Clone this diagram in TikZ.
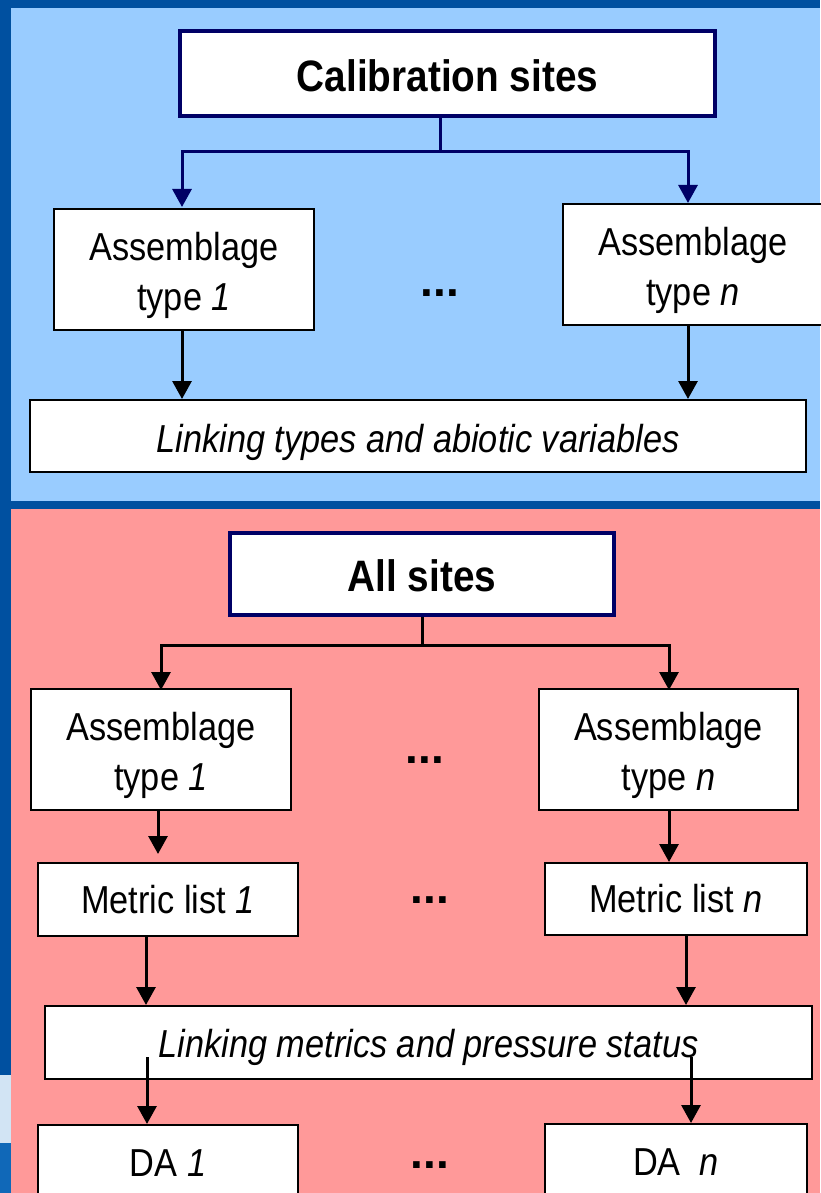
\documentclass[tikz,border=0pt]{standalone}
\usepackage{fontspec}
\setmainfont{Liberation Sans}[FakeStretch=0.88]
\newfontfamily\dotsfont{Liberation Sans}
\usetikzlibrary{arrows.meta}
\definecolor{frameblue}{HTML}{0050A0}
\definecolor{skyblue}{HTML}{99CCFF}
\definecolor{rosepink}{HTML}{FF9999}
\definecolor{navy}{HTML}{000066}
\definecolor{paleblue}{HTML}{D2E4F4}
\definecolor{midblue}{HTML}{1068B8}
\newcommand{\shiftdn}[2]{\raisebox{-#1}[\height][\depth]{#2}}
\newcommand{\twolines}[2]{\shiftdn{6pt}{\begin{tabular}{@{}c@{}}#1\\#2\end{tabular}}}
\tikzset{
  titlebox/.style={draw=navy, line width=3.5pt, fill=white, inner sep=0pt,
    font=\fontsize{44}{50}\selectfont\bfseries},
  plainbox/.style={draw=black, line width=2pt, fill=white, inner sep=0pt, align=center,
    font=\fontsize{39}{50}\selectfont},
  navyconn/.style={draw=navy, line width=3pt},
  blackconn/.style={draw=black, line width=3pt},
  tip/.style={-{Triangle[width=19pt,length=18pt]}},
  dots/.style={font=\dotsfont\fontsize{46}{50}\selectfont\bfseries, inner sep=0pt}
}
\begin{document}
\begin{tikzpicture}[x=1pt,y=-1pt]
\useasboundingbox (0,0) rectangle (820,1193);
% background
\fill[frameblue] (0,0) rectangle (820,1193);
\fill[skyblue] (11,8) rectangle (820,501);
\fill[rosepink] (11,509) rectangle (820,1193);
\fill[paleblue] (0,1075) rectangle (11,1143);
\fill[midblue] (0,1143) rectangle (11,1193);

% ---------- top section ----------
\node[titlebox, minimum width=535pt, minimum height=85pt] (cal) at (447.5,73.5) {\shiftdn{2pt}{Calibration sites}};
\node[plainbox, minimum width=260pt, minimum height=121pt] (at1) at (184,269.5) {\twolines{Assemblage}{type \textit{1}}};
\node[plainbox, minimum width=260pt, minimum height=121pt] (atn) at (693,264.5) {\twolines{Assemblage}{type \textit{n}}};
\node[dots] (d1) at (440,293) {...};
\node[plainbox, minimum width=776pt, minimum height=72pt] (lt) at (418,436) {\shiftdn{6pt}{\textit{Linking types and abiotic variables}}};

\coordinate (cj) at (440,152);
\draw[navyconn] (440,116) -- (cj);
\draw[navyconn, tip] (cj) -- (182,152) -- (182,207);
\draw[navyconn, tip] (cj) -- (688,152) -- (688,203);
\draw[blackconn, tip] (at1.south -| 182,0) -- (lt.north -| 182,0);
\draw[blackconn, tip] (atn.south -| 688,0) -- (lt.north -| 688,0);

% ---------- bottom section ----------
\node[titlebox, minimum width=384pt, minimum height=82pt] (all) at (422,574) {\shiftdn{2pt}{All sites}};
\node[plainbox, minimum width=260pt, minimum height=121pt] (bt1) at (161,749.5) {\twolines{Assemblage}{type \textit{1}}};
\node[plainbox, minimum width=259pt, minimum height=121pt] (btn) at (668.5,749.5) {\twolines{Assemblage}{type \textit{n}}};
\node[dots] (d2) at (425,760) {...};
\node[plainbox, minimum width=260pt, minimum height=73pt] (m1) at (168,899.5) {Metric list \textit{1}};
\node[plainbox, minimum width=262pt, minimum height=72pt] (mn) at (676,899) {Metric list \textit{n}};
\node[dots] (d3) at (430,900) {...};
\node[plainbox, minimum width=767pt, minimum height=73pt] (lm) at (428.5,1042.5) {\shiftdn{5pt}{\textit{Linking metrics and pressure status}}};
\node[plainbox, minimum width=260pt, minimum height=76pt] (da1) at (168,1163) {DA \textit{1}};
\node[plainbox, minimum width=262pt, minimum height=76pt] (dan) at (676,1162) {DA\ \ \textit{n}};
\node[dots] (d4) at (430,1165) {...};

\coordinate (aj) at (422,645);
\draw[blackconn] (all.south) -- (aj);
\draw[blackconn, tip] (aj) -- (161,645) -- (161,690);
\draw[blackconn, tip] (aj) -- (669,645) -- (669,690);
\draw[blackconn, tip] (bt1.south -| 158,0) -- ++(0,43);
\draw[blackconn, tip] (btn.south -| 669,0) -- (mn.north -| 669,0);
\draw[blackconn, tip] (m1.south -| 146,0) -- (lm.north -| 146,0);
\draw[blackconn, tip] (mn.south -| 686,0) -- (lm.north -| 686,0);
\coordinate (s1) at (147,1057);
\coordinate (s2) at (691,1057);
\draw[blackconn, tip] (s1) -- (da1.north -| s1);
\draw[blackconn, tip] (s2) -- (dan.north -| s2);
\end{tikzpicture}
\end{document}
